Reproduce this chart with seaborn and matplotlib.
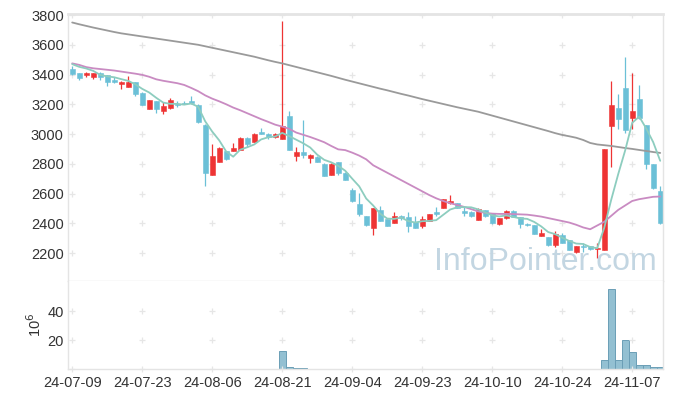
import matplotlib
matplotlib.use("Agg")
import matplotlib.pyplot as plt
from matplotlib import font_manager
import numpy as np
import pandas as pd
import seaborn as sns

# ---------------- data ----------------
dates = ["24-07-09", "24-07-23", "24-08-06", "24-08-21", "24-09-04",
         "24-09-23", "24-10-10", "24-10-24", "24-11-07"]
date_pos = [0, 10, 20, 30, 40, 50, 60, 70, 80]

opens = [3437, 3410, 3395, 3385, 3410, 3395, 3363, 3334, 3318, 3347,
         3274, 3170, 3222, 3157, 3173, 3205, 3212, 3222, 3195, 3061,
         2725, 2814, 2886, 2886, 2895, 2976, 2949, 3016, 3002, 2978,
         2967, 3121, 2855, 2882, 2841, 2848, 2799, 2727, 2812, 2740,
         2626, 2530, 2450, 2366, 2489, 2429, 2404, 2449, 2440, 2411,
         2384, 2418, 2474, 2501, 2534, 2534, 2485, 2478, 2422, 2490,
         2467, 2393, 2434, 2485, 2440, 2398, 2387, 2317, 2308, 2252,
         2319, 2286, 2205, 2248, 2248, 2226, 2221, 3054, 3175, 3310,
         3110, 3236, 3059, 2797, 2617]
highs = [3458, 3412, 3414, 3410, 3414, 3400, 3385, 3358, 3390, 3350,
         3285, 3230, 3225, 3215, 3245, 3220, 3225, 3256, 3200, 3066,
         2932, 2915, 2888, 2942, 2980, 2980, 3010, 3040, 3010, 3005,
         3760, 3155, 2911, 3092, 2865, 2855, 2802, 2805, 2815, 2745,
         2640, 2601, 2452, 2505, 2519, 2432, 2478, 2455, 2476, 2450,
         2450, 2465, 2512, 2565, 2590, 2538, 2508, 2482, 2500, 2492,
         2470, 2436, 2488, 2490, 2442, 2400, 2390, 2360, 2310, 2345,
         2336, 2290, 2250, 2270, 2250, 2265, 2900, 3357, 3267, 3516,
         3408, 3328, 3062, 2800, 2650]
lows = [3400, 3366, 3386, 3368, 3364, 3325, 3345, 3300, 3318, 3256,
        3195, 3170, 3140, 3135, 3170, 3185, 3200, 3205, 3075, 2648,
        2722, 2810, 2828, 2884, 2890, 2915, 2945, 3000, 2970, 2975,
        2965, 2890, 2821, 2837, 2803, 2812, 2715, 2725, 2725, 2690,
        2545, 2450, 2385, 2322, 2415, 2380, 2400, 2425, 2344, 2365,
        2370, 2415, 2450, 2500, 2530, 2500, 2450, 2440, 2420, 2445,
        2395, 2390, 2432, 2443, 2371, 2380, 2325, 2315, 2250, 2240,
        2265, 2218, 2203, 2210, 2220, 2165, 2218, 2777, 3032, 3009,
        3032, 3100, 2765, 2631, 2395]
closes = [3404, 3380, 3410, 3410, 3385, 3352, 3352, 3347, 3352, 3271,
          3197, 3229, 3170, 3190, 3229, 3195, 3204, 3208, 3080, 2740,
          2852, 2908, 2832, 2906, 2976, 2933, 3002, 3003, 2977, 3002,
          3054, 2895, 2882, 2857, 2859, 2814, 2721, 2799, 2740, 2693,
          2547, 2463, 2389, 2505, 2418, 2384, 2451, 2436, 2384, 2371,
          2427, 2463, 2460, 2563, 2550, 2501, 2471, 2451, 2494, 2449,
          2402, 2434, 2485, 2445, 2398, 2387, 2331, 2335, 2254, 2328,
          2268, 2221, 2248, 2239, 2225, 2230, 2900, 3195, 3101, 3027,
          3153, 3110, 2797, 2640, 2400]
prior_closes = [3470, 3465, 3490, 3520]   # closes before the first shown day

# 20-day and 120-day moving averages
ma20 = [3475, 3465, 3450, 3442, 3437, 3432, 3427, 3420, 3413, 3406,
        3398, 3385, 3368, 3358, 3350, 3342, 3330, 3310, 3288, 3260,
        3238, 3220, 3200, 3178, 3160, 3140, 3120, 3100, 3082, 3063,
        3050, 3035, 3010, 2995, 2980, 2963, 2945, 2920, 2897, 2892,
        2875, 2855, 2830, 2790, 2765, 2740, 2715, 2690, 2665, 2640,
        2615, 2590, 2568, 2550, 2535, 2523, 2510, 2495, 2480, 2470,
        2465, 2463, 2463, 2462, 2460, 2458, 2452, 2445, 2435, 2425,
        2415, 2405, 2390, 2372, 2360, 2385, 2410, 2450, 2490, 2520,
        2550, 2562, 2570, 2578, 2580]
ma120 = [3750, 3738, 3727, 3716, 3706, 3696, 3686, 3677, 3670, 3663,
         3656, 3649, 3642, 3635, 3628, 3621, 3614, 3607, 3600, 3590,
         3580, 3570, 3560, 3550, 3540, 3530, 3520, 3508, 3496, 3485,
         3475, 3463, 3451, 3439, 3427, 3415, 3403, 3391, 3378, 3365,
         3353, 3341, 3329, 3317, 3305, 3294, 3282, 3270, 3259, 3247,
         3235, 3224, 3213, 3202, 3191, 3180, 3170, 3160, 3150, 3137,
         3124, 3111, 3098, 3085, 3072, 3059, 3046, 3033, 3020, 3006,
         2994, 2985, 2975, 2960, 2940, 2930, 2925, 2920, 2913, 2906,
         2900, 2893, 2886, 2879, 2873]

# volume in millions of shares
volume = [0.2, 0.2, 0.2, 0.2, 0.2, 0.2, 0.2, 0.2, 0.2, 0.2,
          0.2, 0.2, 0.2, 0.2, 0.2, 0.2, 0.2, 0.2, 0.2, 0.2,
          0.2, 0.2, 0.2, 0.2, 0.2, 0.2, 0.2, 0.2, 0.2, 0.2,
          12.5, 1.6, 0.5, 1.0, 0.2, 0.2, 0.2, 0.2, 0.2, 0.2,
          0.2, 0.2, 0.2, 0.2, 0.2, 0.2, 0.2, 0.2, 0.2, 0.2,
          0.2, 0.2, 0.2, 0.2, 0.2, 0.2, 0.2, 0.2, 0.2, 0.2,
          0.2, 0.2, 0.2, 0.2, 0.2, 0.2, 0.2, 0.2, 0.2, 0.2,
          0.2, 0.2, 0.2, 0.2, 0.2, 0.2, 6.3, 55.0, 6.3, 20.0,
          12.0, 2.5, 2.5, 1.3, 1.3]

price_ticks = [2200, 2400, 2600, 2800, 3000, 3200, 3400, 3600, 3800]
vol_ticks = [20, 40]

# ---------------- style ----------------
sns.set_style("white")
names = {f.name for f in font_manager.fontManager.ttflist}
base_font = "Liberation Sans" if "Liberation Sans" in names else "DejaVu Sans"
wm_font = "Liberation Sans Narrow" if "Liberation Sans Narrow" in names else base_font
plt.rcParams["font.family"] = [base_font, "DejaVu Sans"]

UP = "#EE3434"
DOWN = "#6BC0D7"
C_MA5 = "#8DCDBF"
C_MA20 = "#C98BC2"
C_MA120 = "#9A9A9A"
GRID = "#E6E6E6"
SPINE = "#E4E4E4"
TXT = "#333333"

n = len(closes)
idx = np.arange(n)
df = pd.DataFrame({"i": idx, "open": opens, "high": highs, "low": lows,
                   "close": closes, "ma20": ma20, "ma120": ma120, "vol": volume})
full = pd.Series(prior_closes + closes)
df["ma5"] = full.rolling(5).mean().iloc[len(prior_closes):].to_numpy()

W, H = 673, 399
fig = plt.figure(figsize=(W / 100, H / 100), dpi=100)
ax = fig.add_axes([68 / W, 1 - 281 / H, 595 / W, 267 / H])
axv = fig.add_axes([68 / W, 1 - 369 / H, 595 / W, 88 / H], sharex=ax)

# ---------------- candles ----------------
o = df["open"].to_numpy(float)
c = df["close"].to_numpy(float)
up = c >= o
colors = np.where(up, UP, DOWN)
body_low = np.minimum(o, c)
body_h = np.maximum(np.abs(c - o), 5)
ax.vlines(idx, df["low"], df["high"], colors=colors, lw=0.9, zorder=2)
ax.bar(idx, body_h, bottom=body_low, width=0.72, color=colors,
       edgecolor=colors, linewidth=0.4, zorder=2.5)

# ---------------- moving averages ----------------
sns.lineplot(data=df, x="i", y="ma120", ax=ax, color=C_MA120, lw=1.3, zorder=3)
sns.lineplot(data=df, x="i", y="ma20", ax=ax, color=C_MA20, lw=1.3, zorder=3)
sns.lineplot(data=df, x="i", y="ma5", ax=ax, color=C_MA5, lw=1.3, zorder=3)

# ---------------- volume ----------------
sns.barplot(data=df, x="i", y="vol", ax=axv, color="#93C0D2", width=1.0,
            edgecolor="#6B9EB6", linewidth=0.7, saturation=1, native_scale=True)

# ---------------- axes formatting ----------------
ax.set_xlim(-0.6, 84.4)
ax.set_ylim(2012, 3807)
axv.set_ylim(0, 60.7)

for a in (ax, axv):
    a.set_xlabel("")
    a.set_ylabel("")
    a.tick_params(length=0, colors=TXT, labelsize=10.5)
    for s in a.spines.values():
        s.set_color(SPINE)
        s.set_linewidth(1)

ax.spines["top"].set_linewidth(2)
axv.spines["top"].set_visible(False)

ax.set_yticks(price_ticks)
ax.set_yticklabels([str(t) for t in price_ticks])
ax.tick_params(axis="x", labelbottom=False)
ax.tick_params(axis="y", pad=3)

axv.set_yticks(vol_ticks)
axv.set_yticklabels([str(t) for t in vol_ticks])
axv.set_xticks(date_pos)
axv.set_xticklabels(dates)
axv.tick_params(axis="x", pad=5)
axv.tick_params(axis="y", pad=3)
axv.set_ylabel("10$^6$", color=TXT, fontsize=10.5)
axv.yaxis.set_label_coords((44 - 68) / 595, 0.5)

# grid crosses
gx, gy = np.meshgrid(date_pos, price_ticks)
ax.scatter(gx.ravel(), gy.ravel(), marker="+", s=18, color=GRID, lw=0.9, zorder=1)
gx, gy = np.meshgrid(date_pos, [0] + vol_ticks)
axv.scatter(gx.ravel(), gy.ravel(), marker="+", s=18, color=GRID, lw=0.9, zorder=1,
            clip_on=False)

# watermark
ax.text(0.99, 0.04, "InfoPointer.com", transform=ax.transAxes, ha="right",
        va="baseline", fontsize=27 if wm_font.endswith("Narrow") else 23,
        family=[wm_font, "DejaVu Sans"], color="#C3D6E2", zorder=4)

fig.savefig("out.png", dpi=100)
